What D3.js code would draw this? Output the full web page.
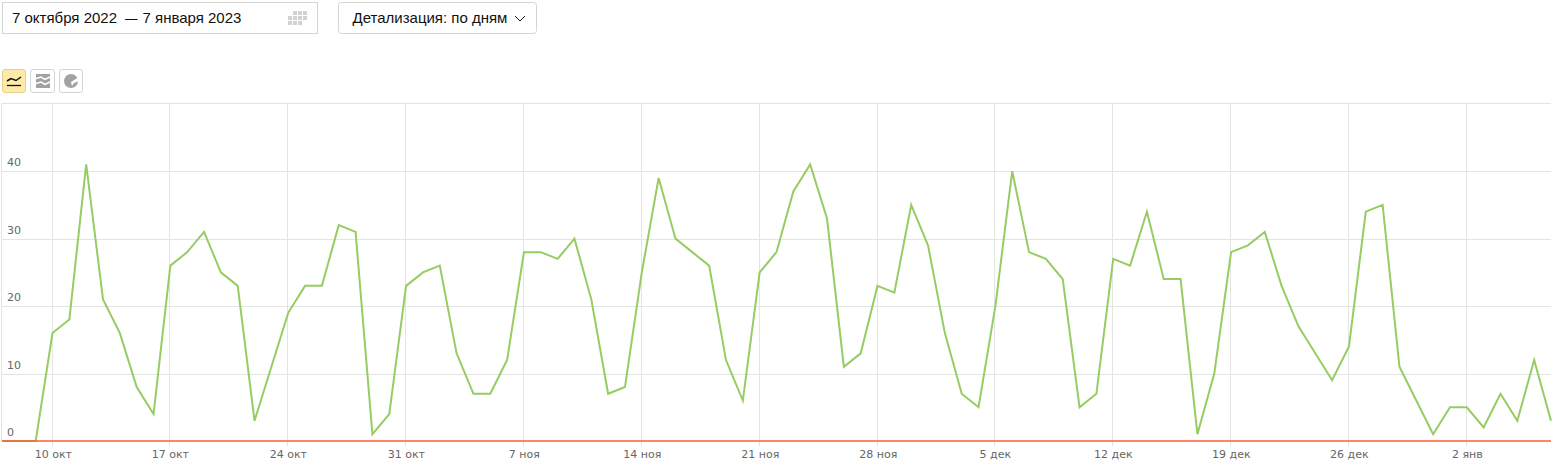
<!DOCTYPE html>
<html><head><meta charset="utf-8">
<script src="https://d3js.org/d3.v7.min.js"></script>
<style>
html,body{margin:0;padding:0;background:#fff;overflow:hidden}
svg{display:block}
</style></head><body>
<svg id="c" width="1557" height="469"></svg>
<script>
const startDate = "2022-10-07";
const values = [0,0,0,16,18,41,21,16,8,4,26,28,31,25,23,3,11,19,23,23,32,31,1,4,23,25,26,13,7,7,12,28,28,27,30,21,7,8,25,39,30,28,26,12,6,25,28,37,41,33,11,13,23,22,35,29,16,7,5,20,40,28,27,24,5,7,27,26,34,24,24,1,10,28,29,31,23,17,13,9,14,34,35,11,6,1,5,5,2,7,3,12,3];
const xTickDates = ["2022-10-10","2022-10-17","2022-10-24","2022-10-31","2022-11-07","2022-11-14","2022-11-21","2022-11-28","2022-12-05","2022-12-12","2022-12-19","2022-12-26","2023-01-02"];
const xTickLabels = ["10 окт","17 окт","24 окт","31 окт","7 ноя","14 ноя","21 ноя","28 ноя","5 дек","12 дек","19 дек","26 дек","2 янв"];
const yTicks = [0,10,20,30,40];
const dateFrom = "7 октября 2022", dateDash = "—", dateTo = "7 января 2023";
const detailText = "Детализация: по дням";

const svg = d3.select("#c");
const day = 864e5, t0 = Date.parse(startDate+"T00:00:00Z");
const dates = values.map((_,i)=>new Date(t0+i*day));
const tickDates = xTickDates.map(d=>new Date(d+"T00:00:00Z"));
const x = d3.scaleUtc().domain([dates[0],dates[dates.length-1]]).range([2,1551]);
const y = d3.scaleLinear().domain([0,40]).range([441,171.2]);
const gx0 = d=>Math.floor(x(d)-0.45)+.5;

// toolbar
const UI="'Liberation Sans',Arial,sans-serif";
svg.append("rect").attr("x",2.5).attr("y",2.5).attr("width",315).attr("height",31).attr("fill","#fff").attr("stroke","#d4d4d4");
const dt=svg.append("text").attr("y",23).attr("font-family",UI).attr("font-size",15).attr("fill","#111");
dt.append("tspan").attr("x",12).text(dateFrom);
dt.append("tspan").attr("x",125).attr("font-size",12.5).text(dateDash);
dt.append("tspan").attr("x",142.5).text(dateTo);
const cal=svg.append("g").attr("fill","#d2d2d2");
d3.range(3).forEach(r=>d3.range(4).forEach(c=>{ if((r===0&&c===0)||(r===2&&c===3)) return;
  cal.append("rect").attr("x",288+c*5).attr("y",11+r*5).attr("width",4).attr("height",4);}));
svg.append("rect").attr("x",338.5).attr("y",2.5).attr("width",198).attr("height",31).attr("rx",3).attr("fill","#fff").attr("stroke","#d4d4d4");
svg.append("text").attr("x",352.5).attr("y",23).attr("font-family",UI).attr("font-size",15).attr("fill","#111").text(detailText);
svg.append("path").attr("d","M515 16 L520 21 L525 16").attr("fill","none").attr("stroke","#222").attr("stroke-width",1);

// view switch buttons
svg.append("rect").attr("x",2.5).attr("y",69.5).attr("width",23).attr("height",23).attr("rx",2.5).attr("fill","#fee9a8").attr("stroke","#e6d08e");
svg.append("path").attr("d","M7 81 L11 78.5 L16 80.5 L21 77").attr("fill","none").attr("stroke","#111").attr("stroke-width",1.5);
svg.append("path").attr("d","M7 85.5H21").attr("stroke","#111").attr("stroke-width",1.3);
svg.append("rect").attr("x",30.5).attr("y",69.5).attr("width",24).attr("height",23).attr("rx",2.5).attr("fill","#fff").attr("stroke","#d4d4d4");
svg.append("path").attr("d","M36 74H50V88H36Z").attr("fill","#a2a2a2");
svg.append("path").attr("d","M36 78.5L41 77L45 79.5L50 77 M36 83.5L41 82L45 84.5L50 82").attr("fill","none").attr("stroke","#fff").attr("stroke-width",1.5);
svg.append("rect").attr("x",59.5).attr("y",69.5).attr("width",23).attr("height",23).attr("rx",2.5).attr("fill","#fff").attr("stroke","#d4d4d4");
svg.append("circle").attr("cx",71).attr("cy",81).attr("r",7).attr("fill","#a2a2a2");
svg.append("path").attr("d","M71 82L79 77V81L74 83L72 86Z").attr("fill","#fff");

// frame + grid
const grid="#e4e4e4";
svg.append("path").attr("d","M1.5 441V103.5H1551").attr("fill","none").attr("stroke",grid);
svg.append("g").selectAll("line").data(tickDates).join("line")
  .attr("x1",gx0).attr("x2",gx0).attr("y1",104).attr("y2",441).attr("stroke",grid);
svg.append("g").selectAll("line").data(yTicks.filter(d=>d>0)).join("line")
  .attr("x1",2).attr("x2",1551).attr("y1",d=>Math.round(y(d))+.5).attr("y2",d=>Math.round(y(d))+.5).attr("stroke",grid);

const LAB="'DejaVu Sans',Verdana,sans-serif";
svg.append("g").selectAll("text").data(yTicks).join("text")
  .attr("x",7).attr("y",d=>Math.round(y(d))-5).attr("font-family",LAB).attr("font-size",11).attr("fill","#666").text(d=>d);

// x axis
const xAxis=d3.axisBottom(x).tickValues(tickDates)
  .tickFormat((d,i)=>xTickLabels[i]).tickSize(5).tickPadding(4);
const gxa=svg.append("g").attr("transform","translate(0,441)").call(xAxis);
gxa.select(".domain").remove();
gxa.selectAll(".tick").attr("transform",d=>`translate(${gx0(d)},0)`);
gxa.selectAll(".tick line").attr("stroke",grid);
gxa.selectAll(".tick text").attr("font-family",LAB).attr("font-size",11).attr("fill","#666").attr("dx",0.8);

// series
svg.append("path").datum(values).attr("fill","none").attr("stroke","#97cc64").attr("stroke-width",2)
  .attr("stroke-linejoin","miter")
  .attr("d",d3.line().x((d,i)=>x(dates[i])).y(d=>y(d)));
svg.append("line").attr("x1",2).attr("x2",1551).attr("y1",y(0)).attr("y2",y(0)).attr("stroke","#ff5a3c").attr("stroke-width",1.5);
</script></body></html>
